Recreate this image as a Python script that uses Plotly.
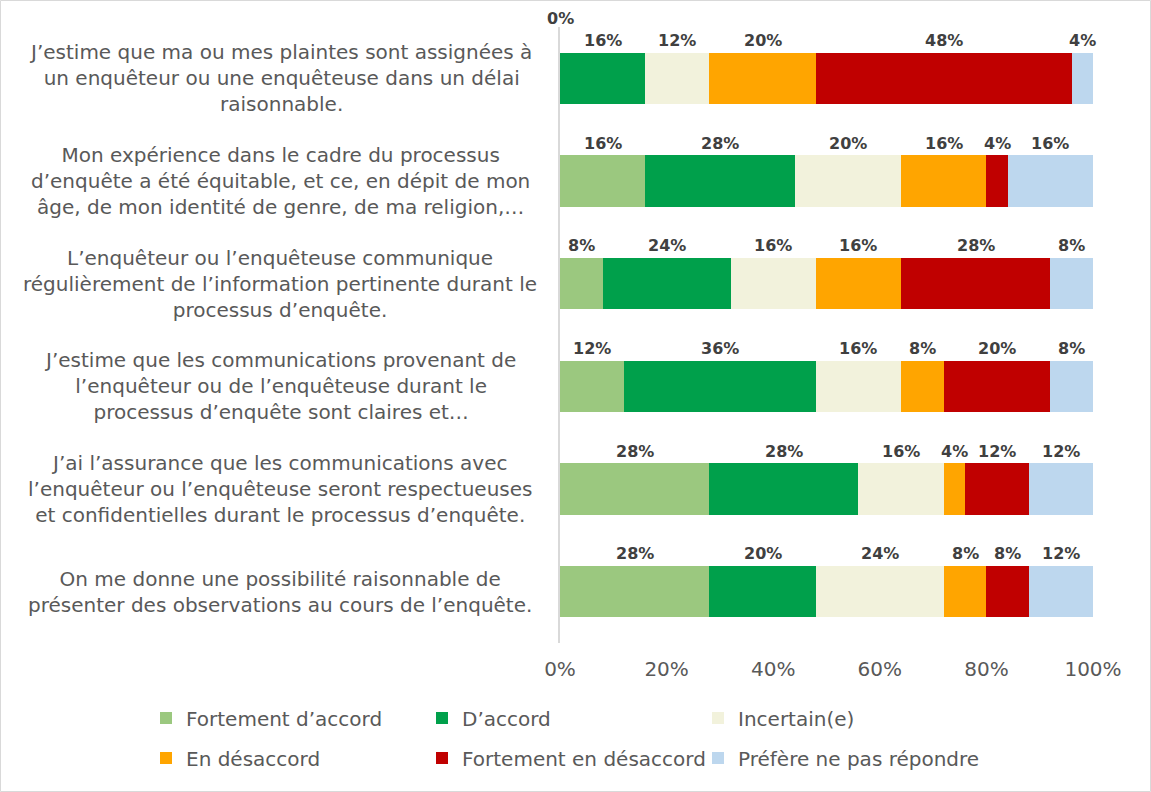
import plotly.graph_objects as go

categories = [
    "J’estime que ma ou mes plaintes sont assignées à<br>un enquêteur ou une enquêteuse dans un délai<br>raisonnable.",
    "Mon expérience dans le cadre du processus<br>d’enquête a été équitable, et ce, en dépit de mon<br>âge, de mon identité de genre, de ma religion,…",
    "L’enquêteur ou l’enquêteuse communique<br>régulièrement de l’information pertinente durant le<br>processus d’enquête.",
    "J’estime que les communications provenant de<br>l’enquêteur ou de l’enquêteuse durant le<br>processus d’enquête sont claires et…",
    "J’ai l’assurance que les communications avec<br>l’enquêteur ou l’enquêteuse seront respectueuses<br>et confidentielles durant le processus d’enquête.",
    "On me donne une possibilité raisonnable de<br>présenter des observations au cours de l’enquête.",
]

series_names = [
    "Fortement d’accord",
    "D’accord",
    "Incertain(e)",
    "En désaccord",
    "Fortement en désaccord",
    "Préfère ne pas répondre",
]

fortement_accord = [0, 16, 8, 12, 28, 28]
accord = [16, 28, 24, 36, 28, 20]
incertain = [12, 20, 16, 16, 16, 24]
desaccord = [20, 16, 16, 8, 4, 8]
fortement_desaccord = [48, 4, 28, 20, 12, 8]
prefere = [4, 16, 8, 8, 12, 12]

series_values = [fortement_accord, accord, incertain, desaccord, fortement_desaccord, prefere]
colors = ["#9BC87F", "#00A04B", "#F2F2DC", "#FFA500", "#C00000", "#BDD7EE"]

x_ticks = [0, 20, 40, 60, 80, 100]

FONT = "DejaVu Sans, Liberation Sans, Arial"

W, H = 1151, 792
L, R, T, B = 560, 58, 27, 149
PW, PH = W - L - R, H - T - B

def px_x(p):
    return (p - L) / PW

def px_y(p):
    return (H - B - p) / PH

legend_ids = ["legend", "legend2", "legend3", "legend4", "legend5", "legend6"]
# legend grid: 3 columns x 2 rows (item left x, row center y) in pixels
legend_cols = [146, 422, 698]
legend_rows = [718, 758]

fig = go.Figure()
for i, (name, vals, col) in enumerate(zip(series_names, series_values, colors)):
    fig.add_trace(go.Bar(
        y=categories, x=vals, name=name, orientation="h",
        marker=dict(color=col, line=dict(width=0)),
        width=0.5,
        legend=legend_ids[i],
        hoverinfo="x+name",
    ))

annotations = []
# data labels above each segment
for ci, cat in enumerate(categories):
    cum = 0
    for si, vals in enumerate(series_values):
        v = vals[ci]
        mid = cum + v / 2
        annotations.append(dict(
            x=mid, y=cat, xref="x", yref="y", text=f"{v}%",
            showarrow=False, yshift=38 if v > 0 else 60,
            font=dict(family=FONT, size=16, color="#404040", weight="bold"),
            xanchor="center", yanchor="middle",
        ))
        cum += v
# category labels (centered multi-line)
for cat in categories:
    annotations.append(dict(
        x=px_x(280), y=cat, xref="paper", yref="y", text=cat,
        showarrow=False, align="center", xanchor="center", yanchor="middle",
        font=dict(family=FONT, size=20, color="#595959"),
    ))

legend_layout = {}
for i, lid in enumerate(legend_ids):
    legend_layout[lid] = dict(
        orientation="v", xanchor="left", yanchor="middle",
        x=px_x(legend_cols[i % 3]), y=px_y(legend_rows[i // 3]),
        font=dict(family=FONT, size=20, color="#595959"), bgcolor="rgba(0,0,0,0)",
    )

fig.update_layout(
    width=W, height=H,
    margin=dict(l=L, r=R, t=T, b=B, pad=0),
    barmode="stack",
    paper_bgcolor="white", plot_bgcolor="white",
    font=dict(family=FONT, size=20, color="#595959"),
    xaxis=dict(
        range=[0, 100], tickvals=x_ticks, ticktext=[f"{t}%" for t in x_ticks],
        showgrid=False, zeroline=False, showline=False,
        ticks="", ticklabelstandoff=12,
        tickfont=dict(family=FONT, size=20, color="#595959"),
        fixedrange=True,
    ),
    yaxis=dict(
        categoryorder="array", categoryarray=categories,
        autorange=False, range=[5.5, -0.5],
        showticklabels=False, showgrid=False, zeroline=False,
        showline=True, linecolor="#D9D9D9", linewidth=1.5,
        fixedrange=True,
    ),
    annotations=annotations,
    showlegend=True,
    shapes=[dict(
        type="rect", xref="paper", yref="paper",
        x0=px_x(0.5), x1=px_x(W - 0.5), y0=px_y(H - 0.5), y1=px_y(0.5),
        line=dict(color="#D9D9D9", width=1), fillcolor="rgba(0,0,0,0)", layer="below",
    )],
    **legend_layout,
)

fig.write_html(
    "out.html",
    config={"displayModeBar": False},
    post_script="document.body.style.margin='0px';",
)
